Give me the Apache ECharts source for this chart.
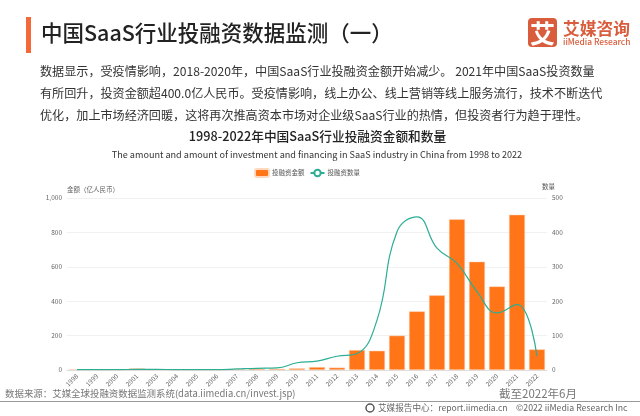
<!DOCTYPE html>
<html>
<head>
<meta charset="utf-8">
<style>html,body{margin:0;padding:0;background:#fff}#vis{width:640px;height:416px}</style>
<script src="https://cdn.jsdelivr.net/npm/echarts@6/dist/echarts.min.js"></script>
</head>
<body>
<div id="vis"></div>
<script>
// 2002 is not on the original axis
const years = ['1998','1999','2000','2001','2003','2004','2005','2006','2007','2008','2009','2010','2011','2012','2013','2014','2015','2016','2017','2018','2019','2020','2021','2022'];
const amounts = [4,1,1,9,2,1,1,1,5,7,7,10,17,14,116,112,200,341,434,876,630,486,903,120];
const counts = [1,1,1,2,2,1,1,1,3,5,6,21,26,40,48,145,402,445,354,310,228,166,191,40];
const bodyLines = [
  '数据显示，受疫情影响，2018-2020年，中国SaaS行业投融资金额开始减少。 2021年中国SaaS投资数量',
  '有所回升，投资金额超400.0亿人民币。受疫情影响，线上办公、线上营销等线上服务流行，技术不断迭代',
  '优化，加上市场经济回暖，这将再次推高资本市场对企业级SaaS行业的热情，但投资者行为趋于理性。'
];

const font = '"Noto Sans CJK SC", "Noto Sans", sans-serif';
const chart = echarts.init(document.getElementById('vis'), null, {renderer: 'canvas'});

function txt(x, y, text, size, color, extra) {
  return {type: 'text', x: x, y: y, silent: true, style: Object.assign({
    text: text, fontSize: size, fill: color, fontFamily: font, verticalAlign: 'middle'
  }, extra || {})};
}

const graphics = [
  {type: 'rect', shape: {x: 26, y: 17, width: 5, height: 36}, style: {fill: '#F4683A'}},
  txt(41, 33, '中国SaaS行业投融资数据监测（一）', 21.5, '#222', {fontWeight: 500}),
  {type: 'rect', shape: {x: 528, y: 18, width: 29, height: 29, r: 4}, style: {fill: '#D95C3C'}},
  txt(542.5, 33, '艾', 25, '#fff', {align: 'center', fontWeight: 'bold'}),
  txt(563, 29, '艾媒咨询', 16.8, '#D95C3C', {fontWeight: 'bold'}),
  txt(563, 42, 'iiMedia Research', 8.4, '#D95C3C', {fontWeight: 500}),
  txt(317.5, 136, '1998-2022年中国SaaS行业投融资金额和数量', 12.7, '#222', {align: 'center', fontWeight: 500}),
  txt(317, 155, 'The amount and amount of investment and financing in SaaS industry in China from 1998 to 2022', 9.1, '#333', {align: 'center'}),
  txt(67, 190, '金额（亿人民币）', 6.5, '#666'),
  txt(542, 187, '数量', 6.5, '#555'),
  txt(5, 393, '数据来源：艾媒全球投融资数据监测系统(data.iimedia.cn/invest.jsp)', 9.45, '#777'),
  txt(499, 394, '截至2022年6月', 11.5, '#777'),
  {type: 'rect', shape: {x: 0, y: 401, width: 640, height: 1}, style: {fill: '#999'}},
  {type: 'circle', shape: {cx: 370, cy: 408, r: 4}, style: {fill: '#fff', stroke: '#555', lineWidth: 1.5}},
  txt(378, 408, '艾媒报告中心：report.iimedia.cn', 8.6, '#666'),
  txt(516, 408, '©2022 iiMedia Research Inc', 8.75, '#666')
];
bodyLines.forEach((l, i) => graphics.push(txt(40, 71 + i * 22, l, 12.1, '#333')));

const options = {
  animation: false,
  backgroundColor: '#fff',
  textStyle: {fontFamily: font},
  graphic: graphics,
  legend: {
    top: 163, left: 249, itemWidth: 14, itemHeight: 8, itemGap: 5,
    textStyle: {fontSize: 6.5, color: '#555', padding: [0, 0, 0, -2]},
    data: ['投融资金额', '投融资数量']
  },
  grid: {left: 67, right: 93, top: 198, height: 172},
  xAxis: {
    type: 'category', data: years,
    axisLine: {lineStyle: {color: '#ddd'}}, axisTick: {show: false},
    axisLabel: {rotate: 45, interval: 0, fontSize: 6.5, color: '#666', margin: 5}
  },
  yAxis: [
    {
      type: 'value', min: 0, max: 1000, interval: 200,
      axisLine: {show: false}, axisTick: {show: false},
      splitLine: {lineStyle: {color: '#f1f1f1'}},
      axisLabel: {fontSize: 6.5, color: '#666', margin: 5,
        formatter: v => v.toLocaleString('en-US')}
    },
    {
      type: 'value', min: 0, max: 500, interval: 100,
      axisLine: {show: false}, axisTick: {show: false},
      splitLine: {show: false},
      axisLabel: {fontSize: 6.5, color: '#666', margin: 5}
    }
  ],
  series: [
    {
      name: '投融资金额', type: 'bar', data: amounts, barWidth: 16,
      itemStyle: {color: '#FF7518', borderColor: '#FFD9BF', borderWidth: 0.5}
    },
    {
      name: '投融资数量', type: 'line', yAxisIndex: 1, data: counts,
      smooth: 0.45, showSymbol: false, symbol: 'circle', symbolSize: 6,
      lineStyle: {color: '#2BAE94', width: 1.2},
      itemStyle: {color: '#fff', borderColor: '#2BAE94', borderWidth: 1}
    }
  ]
};
chart.setOption(options);
window.addEventListener('resize', () => chart.resize());
</script>
</body>
</html>
